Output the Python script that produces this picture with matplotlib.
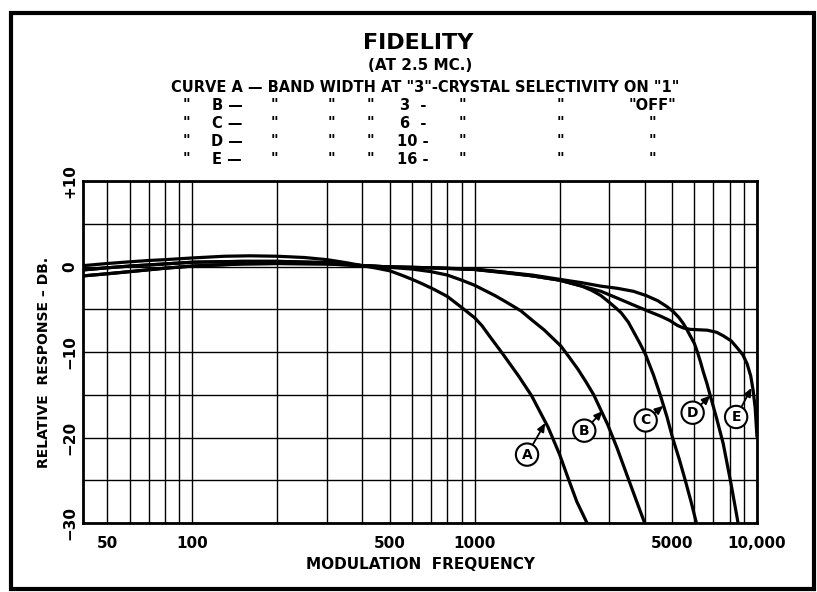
import matplotlib
matplotlib.use("Agg")
import matplotlib.pyplot as plt
from matplotlib.patches import Rectangle

plt.rcParams['font.family'] = ['DejaVu Sans']

# ---------------- data ----------------
freq_A = [41, 50, 60, 80, 100, 150, 200, 300, 400, 450, 500, 550, 600, 650, 720, 800, 900,
          1000, 1060, 1150, 1250, 1430, 1590, 1820, 2000, 2140, 2300, 2500]
db_A = [-0.4, -0.15, 0.05, 0.3, 0.5, 0.6, 0.6, 0.45, 0.1, -0.2, -0.5, -1.0, -1.5, -2.0, -2.7,
        -3.5, -4.8, -6.0, -6.9, -8.5, -10.1, -12.8, -15.1, -18.8, -22.0, -24.7, -27.5, -30.0]

freq_B = [41, 50, 60, 70, 80, 100, 130, 160, 200, 250, 300, 350, 400, 500, 600, 700, 800, 900,
          1000, 1180, 1300, 1460, 1600, 1760, 2020, 2150, 2320, 2480, 2640, 2800, 2960, 3200,
          3490, 3750, 4000]
db_B = [0.1, 0.35, 0.55, 0.7, 0.8, 1.0, 1.2, 1.25, 1.2, 1.05, 0.8, 0.45, 0.1, -0.1, -0.3, -0.6,
        -1.0, -1.6, -2.2, -3.4, -4.2, -5.2, -6.3, -7.4, -9.3, -10.5, -12.0, -13.5, -15.0, -16.8,
        -18.5, -21.3, -24.7, -27.5, -30.0]

freq_C = [41, 50, 60, 80, 100, 150, 200, 300, 400, 500, 700, 1000, 1300, 1600, 2000, 2400, 2600,
          2800, 3000, 3150, 3300, 3500, 3650, 3850, 4030, 4300, 4550, 4800, 5020, 5300, 5570,
          5850, 6100]
db_C = [-1.1, -0.85, -0.6, -0.2, 0.05, 0.3, 0.35, 0.3, 0.1, -0.05, -0.15, -0.35, -0.7, -1.1,
        -1.6, -2.3, -2.8, -3.4, -4.2, -4.8, -5.4, -6.5, -7.6, -9.0, -10.3, -12.7, -15.1, -17.6,
        -20.0, -22.5, -25.0, -27.6, -30.0]

freq_D = [41, 50, 60, 80, 100, 150, 200, 300, 400, 500, 700, 1000, 1600, 2000, 2400, 2800, 3200,
          3650, 4050, 4450, 4800, 5060, 5300, 5490, 5650, 5800, 6000, 6150, 6300, 6450, 6650,
          6830, 7200, 7590, 8100, 8570]
db_D = [-0.4, -0.15, 0.05, 0.3, 0.5, 0.6, 0.6, 0.45, 0.1, -0.05, -0.15, -0.3, -1.0, -1.5, -1.9,
        -2.3, -2.55, -2.9, -3.4, -4.0, -4.7, -5.3, -6.0, -6.7, -7.4, -8.1, -9.0, -10.0, -11.1,
        -12.3, -13.7, -15.1, -17.8, -20.7, -25.5, -30.0]

freq_E = [41, 50, 60, 80, 100, 150, 200, 300, 400, 500, 700, 1000, 1600, 2000, 2400, 2800, 3200,
          3650, 4100, 4550, 4900, 5230, 5500, 5800, 6200, 6670, 7200, 7590, 8100, 8500, 8900,
          9230, 9500, 9680, 9850, 10000]
db_E = [-1.1, -0.85, -0.6, -0.2, 0.05, 0.3, 0.35, 0.3, 0.1, -0.05, -0.15, -0.35, -1.1, -1.6,
        -2.3, -2.9, -3.7, -4.5, -5.2, -5.8, -6.3, -6.9, -7.2, -7.35, -7.4, -7.45, -7.7, -8.1,
        -8.7, -9.5, -10.3, -11.4, -12.8, -14.4, -16.5, -20.0]

curve_letters = ['A', 'B', 'C', 'D', 'E']
# (arrow tip frequency, tip dB, circle frequency, circle dB)
label_pos = {
    'A': (1778, -18.3, 1533, -22.0),
    'B': (2839, -16.9, 2445, -19.2),
    'C': (4657, -16.3, 4033, -18.0),
    'D': (6832, -15.1, 5916, -17.1),
    'E': (9560, -14.2, 8435, -17.6),
}

x_ticks = [50, 100, 500, 1000, 5000, 10000]
x_tick_labels = ['50', '100', '500', '1000', '5000', '10,000']
x_grid = [50, 60, 70, 80, 90, 100, 200, 300, 400, 500, 600, 700, 800, 900,
          1000, 2000, 3000, 4000, 5000, 6000, 7000, 8000, 9000]
y_ticks = [-30, -20, -10, 0, 10]
y_tick_labels = ['\u221230', '\u221220', '\u221210', '0', '+10']
y_grid = [-25, -15, -5, 5]

title = 'FIDELITY'
subtitle = '(AT 2.5 MC.)'
header = 'CURVE A \u2014 BAND WIDTH AT "3"-CRYSTAL SELECTIVITY ON "1"'
# rows of the key table: (text, x pixel) per row
row_items = [
    [('"', 186), ('B \u2014', 227), ('"', 274), ('"', 331), ('"', 370), ('3  -', 413), ('"', 462), ('"', 560), ('"OFF"', 652)],
    [('"', 186), ('C \u2014', 227), ('"', 274), ('"', 331), ('"', 370), ('6  -', 413), ('"', 462), ('"', 560), ('"', 652)],
    [('"', 186), ('D \u2014', 227), ('"', 274), ('"', 331), ('"', 370), ('10 -', 413), ('"', 462), ('"', 560), ('"', 652)],
    [('"', 186), ('E \u2014', 227), ('"', 274), ('"', 331), ('"', 370), ('16 -', 413), ('"', 462), ('"', 560), ('"', 652)],
]
row_y = [106, 124, 142, 160]

# ---------------- figure ----------------
W, H = 817, 592
fig = plt.figure(figsize=(W / 100, H / 100), dpi=100)
fig.patch.set_facecolor('white')

def fx(px):
    return px / W

def fy(py):
    return 1 - py / H

ax = fig.add_axes([fx(83), fy(523), fx(757) - fx(83), fy(181) - fy(523)])
ax.set_xscale('log')
ax.set_xlim(41, 10000)
ax.set_ylim(-30, 10)

ax.set_xticks(x_ticks)
ax.set_xticklabels(x_tick_labels)
ax.set_xticks(x_grid, minor=True)
ax.xaxis.set_minor_formatter(matplotlib.ticker.NullFormatter())
ax.set_yticks(y_ticks)
ax.set_yticklabels(y_tick_labels, rotation=90, va='center')
ax.set_yticks(y_grid, minor=True)
ax.grid(True, which='both', color='black', lw=1.0)
ax.set_axisbelow(True)
ax.tick_params(which='both', length=0)
ax.tick_params(axis='x', pad=9, labelsize=11)
ax.tick_params(axis='y', pad=4, labelsize=11)
for lab in ax.get_xticklabels() + ax.get_yticklabels():
    lab.set_fontweight('bold')
for s in ax.spines.values():
    s.set_linewidth(2.0)

series = {'A': (freq_A, db_A), 'B': (freq_B, db_B), 'C': (freq_C, db_C),
          'D': (freq_D, db_D), 'E': (freq_E, db_E)}
for k in curve_letters:
    f, d = series[k]
    ax.plot(f, d, color='black', lw=2.3, solid_capstyle='butt', solid_joinstyle='round',
            clip_on=True, zorder=3)

for k in curve_letters:
    tx, ty, cx, cy = label_pos[k]
    ax.annotate(k, xy=(tx, ty), xytext=(cx, cy), ha='center', va='center',
                fontsize=10, fontweight='bold', zorder=5,
                bbox=dict(boxstyle='circle,pad=0.3', fc='white', ec='black', lw=1.5),
                arrowprops=dict(arrowstyle='-|>,head_length=0.5,head_width=0.22',
                                color='black', lw=1.3, shrinkA=0, shrinkB=0))

ax.set_xlabel('MODULATION  FREQUENCY', fontsize=11, fontweight='bold', labelpad=5)
ax.set_ylabel('RELATIVE  RESPONSE \u2013 DB.', fontsize=10, fontweight='bold', labelpad=10)
ax.yaxis.set_label_coords(-0.048, 0.47)

# ---------------- header text ----------------
fig.text(fx(418), fy(43), title, ha='center', va='center', fontsize=16, fontweight='bold')
fig.text(fx(420), fy(65), subtitle, ha='center', va='center', fontsize=11, fontweight='bold')
fig.text(fx(425), fy(88), header, ha='center', va='center', fontsize=10.5, fontweight='bold')
for items, yy in zip(row_items, row_y):
    for t, xx in items:
        fig.text(fx(xx), fy(yy), t, ha='center', va='center', fontsize=10.5, fontweight='bold')

# ---------------- outer frame ----------------
fig.patches.append(Rectangle((fx(11), fy(589)), fx(814) - fx(11), fy(13) - fy(589),
                             transform=fig.transFigure, fill=False, ec='black', lw=3.0))

fig.savefig('out.png', dpi=100, facecolor='white')
